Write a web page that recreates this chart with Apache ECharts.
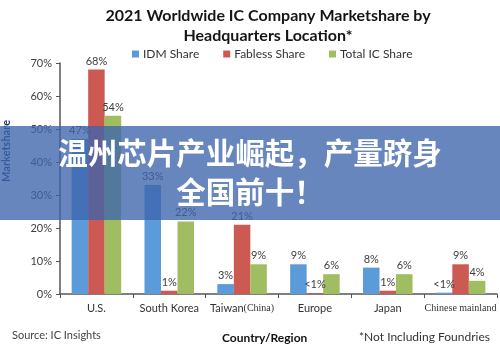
<!DOCTYPE html>
<html>
<head>
<meta charset="utf-8">
<script src="https://cdn.jsdelivr.net/npm/echarts@6/dist/echarts.min.js"></script>
<style>html,body{margin:0;padding:0;background:#fff;}#c{width:500px;height:347px;}</style>
</head>
<body>
<div id="c"></div>
<script>
const categories = ['U.S.', 'South Korea', 'Taiwan(China)', 'Europe', 'Japan', 'Chinese mainland'];
const idmShare = [47, 33, 3, 9, 8, 0.4];
const fablessShare = [68, 1, 21, 0.3, 1, 9];
const totalShare = [54, 22, 9, 6, 6, 4];
const idmLabels = ['47%', '33%', '3%', '9%', '8%', '<1%'];
const fablessLabels = ['68%', '1%', '21%', '<1%', '1%', '9%'];
const totalLabels = ['54%', '22%', '9%', '6%', '6%', '4%'];
const yTicks = [0, 10, 20, 30, 40, 50, 60, 70];

const chart = echarts.init(document.getElementById('c'));
const FONT = 'Lato';
const lbl = (arr) => ({
  show: true, position: 'top', distance: 3,
  fontFamily: FONT, fontSize: 11, color: '#404040',
  formatter: (p) => arr[p.dataIndex]
});
chart.setOption({
  animation: false,
  backgroundColor: '#fff',
  title: {
    text: '2021 Worldwide IC Company Marketshare by\nHeadquarters Location*',
    left: 263, textAlign: 'center', top: 1,
    textStyle: { fontFamily: FONT, fontSize: 16, fontWeight: 'bold', color: '#151515', lineHeight: 20 }
  },
  legend: {
    left: 127, top: 43, itemWidth: 7, itemHeight: 7, itemGap: 24,
    icon: 'rect',
    textStyle: { fontFamily: FONT, fontSize: 12, color: '#333', padding: [0, 0, 0, -1] },
    data: ['IDM Share', 'Fabless Share', 'Total IC Share']
  },
  grid: { left: 60, right: 3, top: 63, bottom: 53 },
  xAxis: {
    type: 'category', data: categories,
    axisLine: { lineStyle: { color: '#555', width: 1.5 } },
    axisTick: { show: true, length: 4, lineStyle: { color: '#555' } },
    axisLabel: {
      interval: 0, hideOverlap: false,
      margin: 9, fontFamily: FONT, fontSize: 11, color: '#333',
      formatter: (v) => {
        if (v === 'Taiwan(China)') return 'Taiwan{s|(China)}';
        if (v === 'Chinese mainland') return '{m|Chinese mainland}';
        return v;
      },
      rich: {
        s: { fontFamily: 'Liberation Serif', fontSize: 10, color: '#333' },
        m: { fontFamily: 'Liberation Serif', fontSize: 10, color: '#333' }
      }
    }
  },
  yAxis: {
    type: 'value', min: 0, max: 70, interval: 10,
    axisLine: { show: true, lineStyle: { color: '#555', width: 1.5 } },
    axisTick: { show: true, length: 4, lineStyle: { color: '#555' } },
    splitLine: { show: false },
    axisLabel: {
      margin: 8, fontFamily: FONT, fontSize: 11, color: '#404040',
      formatter: (v) => (yTicks.includes(v) ? v + '%' : '')
    }
  },
  series: [
    { name: 'IDM Share', type: 'bar', data: idmShare, barGap: '0%', barCategoryGap: '32%',
      itemStyle: { color: '#5b9bd9' }, label: lbl(idmLabels) },
    { name: 'Fabless Share', type: 'bar', data: fablessShare,
      itemStyle: { color: '#cc5a53' }, label: lbl(fablessLabels) },
    { name: 'Total IC Share', type: 'bar', data: totalShare,
      itemStyle: { color: '#a0bd62' }, label: lbl(totalLabels) }
  ],
  graphic: [
    { type: 'text', left: 1, top: 120, rotation: Math.PI / 2, z: 5,
      style: { text: 'Marketshare', fontFamily: FONT, fontSize: 11, fontWeight: 'bold', fill: '#1f3a6b' } },
    { type: 'text', left: 12, top: 330, z: 5,
      style: { text: 'Source: IC Insights', fontFamily: FONT, fontSize: 11, fill: '#444' } },
    { type: 'text', left: 222, top: 332, z: 5,
      style: { text: 'Country/Region', fontFamily: FONT, fontSize: 12, fontWeight: 'bold', fill: '#111' } },
    { type: 'text', left: 359, top: 331, z: 5,
      style: { text: '*Not Including Foundries', fontFamily: FONT, fontSize: 12, fill: '#333' } },
    { type: 'rect', left: 0, top: 126, z: 100,
      shape: { width: 500, height: 94 },
      style: { fill: 'rgba(60,100,172,0.78)' } },
    { type: 'text', left: 'center', top: 138, z: 101,
      style: { text: '温州芯片产业崛起，产量跻身', fontFamily: 'Noto Sans CJK SC', fontSize: 29.5, fontWeight: 'bold', fill: '#fff' } },
    { type: 'text', left: 'center', top: 177, z: 101,
      style: { text: '全国前十！', fontFamily: 'Noto Sans CJK SC', fontSize: 29.5, fontWeight: 'bold', fill: '#fff' } }
  ]
});
</script>
</body>
</html>
